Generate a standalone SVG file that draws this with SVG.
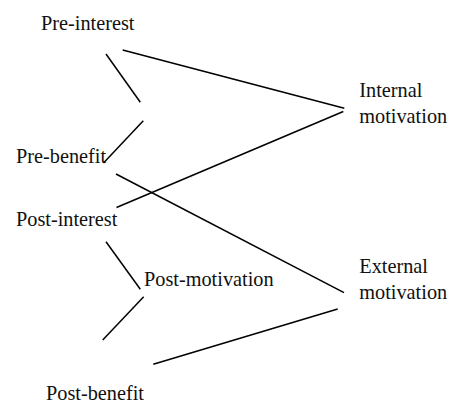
<svg xmlns="http://www.w3.org/2000/svg" width="451" height="405" viewBox="0 0 451 405">
<style>
text{font-family:"Liberation Serif","DejaVu Serif",serif;font-size:20.3px;fill:#111}
.c line{stroke:#000;stroke-width:1.5;stroke-linecap:butt}
</style>
<rect width="451" height="405" fill="#fff"/>
<g class="c" id="connectors">
<line x1="106" y1="54" x2="140.3" y2="102.3"/>
<line x1="143.3" y1="120.7" x2="103.5" y2="163"/>
<line x1="122.7" y1="50" x2="344.3" y2="108.3"/>
<line x1="116.5" y1="207.5" x2="343.3" y2="111.5"/>
<line x1="116" y1="174" x2="344" y2="292.7"/>
<line x1="106" y1="241.7" x2="140.3" y2="289.3"/>
<line x1="143.7" y1="296.7" x2="102.7" y2="340"/>
<line x1="153.3" y1="364.3" x2="337.7" y2="309"/>
</g>
<g id="pre-interest"><text x="41" y="30">Pre-interest</text></g>
<g id="pre-benefit"><text x="16" y="163.3">Pre-benefit</text></g>
<g id="post-interest"><text x="16" y="226">Post-interest</text></g>
<g id="post-motivation"><text x="144" y="285.5">Post-motivation</text></g>
<g id="post-benefit"><text x="46" y="400">Post-benefit</text></g>
<g id="internal-motivation"><text x="359.3" y="96.7">Internal</text><text x="359.3" y="122.7">motivation</text></g>
<g id="external-motivation"><text x="359.3" y="273.3">External</text><text x="359.3" y="299.3">motivation</text></g>
</svg>
